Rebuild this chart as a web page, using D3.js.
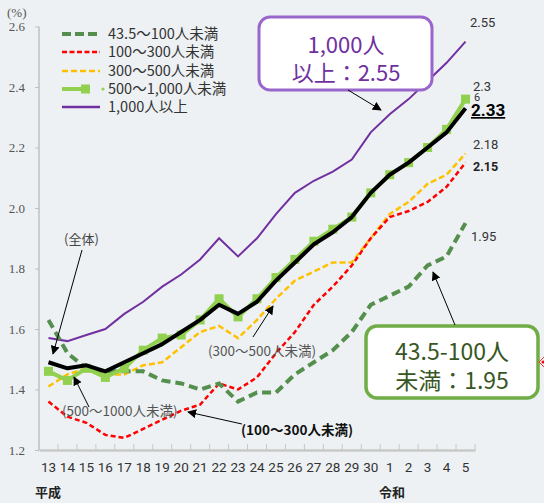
<!DOCTYPE html>
<html><head><meta charset="utf-8">
<script src="https://cdn.jsdelivr.net/npm/d3@7/dist/d3.min.js"></script>
<style>
html,body{margin:0;padding:0;background:#edf1f3;}
svg{display:block;}
</style></head><body>
<svg id="c" width="544" height="503"></svg>
<script>
const categories = ["13","14","15","16","17","18","19","20","21","22","23","24","25","26","27","28","29","30","1","2","3","4","5"];
const s43_100   = [1.63,1.52,1.47,1.46,1.46,1.46,1.43,1.42,1.40,1.42,1.36,1.39,1.39,1.45,1.49,1.53,1.59,1.68,1.71,1.74,1.81,1.84,1.95];
const s100_300  = [1.36,1.31,1.29,1.25,1.24,1.27,1.30,1.33,1.35,1.42,1.40,1.44,1.52,1.59,1.68,1.74,1.81,1.90,1.97,1.99,2.02,2.07,2.15];
const s300_500  = [1.41,1.45,1.47,1.45,1.45,1.48,1.49,1.54,1.59,1.61,1.57,1.63,1.70,1.76,1.79,1.82,1.82,1.90,1.98,2.02,2.08,2.11,2.18];
const s500_1000 = [1.46,1.43,1.47,1.44,1.47,1.53,1.57,1.58,1.63,1.70,1.64,1.70,1.77,1.83,1.89,1.93,1.97,2.05,2.11,2.15,2.20,2.26,2.36];
const s1000     = [1.57,1.56,1.58,1.60,1.65,1.69,1.74,1.78,1.83,1.90,1.84,1.90,1.98,2.05,2.09,2.12,2.16,2.25,2.31,2.36,2.42,2.48,2.55];
const sTotal    = [1.49,1.47,1.48,1.46,1.49,1.52,1.55,1.59,1.63,1.68,1.65,1.69,1.76,1.82,1.88,1.92,1.97,2.05,2.11,2.15,2.20,2.25,2.33];
const yTicks = [1.2,1.4,1.6,1.8,2.0,2.2,2.4,2.6];
const legendLabels = ["43.5〜100人未満","100〜300人未満","300〜500人未満","500〜1,000人未満","1,000人以上"];

const svg = d3.select("#c");
const x = d3.scaleBand().domain(categories).range([39,475]).padding(0);
const xc = d => x(d) + x.bandwidth()/2;
const y = d3.scaleLinear().domain([1.2,2.6]).range([450,26.5]);

const serif = "'Liberation Serif','DejaVu Serif',serif";
const sans = "'Noto Sans CJK JP','Noto Sans',sans-serif";

const defs = svg.append("defs");
defs.append("marker").attr("id","ah").attr("viewBox","0 0 10 10").attr("refX",9).attr("refY",5)
  .attr("markerWidth",9).attr("markerHeight",9).attr("markerUnits","userSpaceOnUse").attr("orient","auto")
  .append("path").attr("d","M0,0 L10,5 L0,10 Z").attr("fill","#000");

// Y axis
const yAxis = svg.append("g").attr("transform","translate(39,0)")
  .call(d3.axisLeft(y).tickValues(yTicks).tickFormat(d3.format(".1f")).tickSize(4).tickPadding(10));
yAxis.select(".domain").attr("stroke","#bfbfbf").attr("stroke-width",1.5).attr("d","M0,26.5V450");
yAxis.selectAll(".tick line").attr("stroke","#bfbfbf");
yAxis.selectAll("text").attr("font-family",serif).attr("font-size",13).attr("fill","#555");

svg.append("text").attr("x",7).attr("y",17).attr("font-family",serif).attr("font-size",13).attr("fill","#555").text("(%)");

// X axis
const xAxis = svg.append("g").attr("transform","translate(0,450)")
  .call(d3.axisBottom(x).tickSize(0).tickPadding(12));
xAxis.select(".domain").attr("stroke","#c8c8c8").attr("stroke-width",2.5);
xAxis.selectAll("text").attr("font-family","Roboto,'Noto Sans',sans-serif").attr("font-size",13.5).attr("fill","#333");
svg.append("g").selectAll("line").data(categories.concat(["end"])).join("line")
  .attr("x1",(d,i)=> i<categories.length ? x(d) : x(categories[categories.length-1])+x.bandwidth())
  .attr("x2",(d,i)=> i<categories.length ? x(d) : x(categories[categories.length-1])+x.bandwidth())
  .attr("y1",444).attr("y2",450).attr("stroke","#c8c8c8").attr("stroke-width",1);

svg.append("text").attr("x",35).attr("y",497).attr("font-family",sans).attr("font-weight","bold").attr("font-size",13).attr("fill","#222").text("平成");
svg.append("text").attr("x",379).attr("y",497).attr("font-family",sans).attr("font-weight","bold").attr("font-size",13).attr("fill","#222").text("令和");

const line = d3.line().x((d,i)=>xc(categories[i])).y(d=>y(d));

svg.append("path").datum(s1000).attr("d",line).attr("fill","none").attr("stroke","#7030a0").attr("stroke-width",2);
svg.append("path").datum(s300_500).attr("d",line).attr("fill","none").attr("stroke","#ffc000").attr("stroke-width",2.5).attr("stroke-dasharray","6,3");
svg.append("path").datum(s100_300).attr("d",line).attr("fill","none").attr("stroke","#ff0000").attr("stroke-width",2.5).attr("stroke-dasharray","5,3");
svg.append("path").datum(s43_100).attr("d",line).attr("fill","none").attr("stroke","#548f4e").attr("stroke-width",4).attr("stroke-dasharray","9,5");
svg.append("path").datum(s500_1000).attr("d",line).attr("fill","none").attr("stroke","#92d050").attr("stroke-width",4);
svg.append("g").selectAll("rect").data(s500_1000).join("rect")
  .attr("x",(d,i)=>xc(categories[i])-4.5).attr("y",d=>y(d)-4.5).attr("width",9).attr("height",9).attr("fill","#92d050");
svg.append("path").datum(sTotal).attr("d",line).attr("fill","none").attr("stroke","#000").attr("stroke-width",4).attr("stroke-linejoin","round");

// legend
const lg = svg.append("g");
const ly = [34,52,71,89,107];
lg.append("line").attr("x1",62).attr("x2",100).attr("y1",ly[0]).attr("y2",ly[0]).attr("stroke","#548f4e").attr("stroke-width",4).attr("stroke-dasharray","9,4");
lg.append("line").attr("x1",62).attr("x2",100).attr("y1",ly[1]).attr("y2",ly[1]).attr("stroke","#ff0000").attr("stroke-width",2.5).attr("stroke-dasharray","5,2.5");
lg.append("line").attr("x1",62).attr("x2",100).attr("y1",ly[2]).attr("y2",ly[2]).attr("stroke","#ffc000").attr("stroke-width",2.5).attr("stroke-dasharray","6,3");
lg.append("line").attr("x1",62).attr("x2",90).attr("y1",ly[3]).attr("y2",ly[3]).attr("stroke","#92d050").attr("stroke-width",4);
lg.append("rect").attr("x",81).attr("y",ly[3]-4.5).attr("width",9).attr("height",9).attr("fill","#92d050");
lg.append("circle").attr("cx",103).attr("cy",ly[3]).attr("r",1.6).attr("fill","#92d050");
lg.append("line").attr("x1",62).attr("x2",100).attr("y1",ly[4]).attr("y2",ly[4]).attr("stroke","#7030a0").attr("stroke-width",2.5);
lg.selectAll("text").data(legendLabels).join("text").attr("x",108).attr("y",(d,i)=>ly[i]+5)
  .attr("font-family",sans).attr("font-size",14.5).attr("fill","#333").text(d=>d);

// end labels
const endLbl = (t,xx,yy,opt={}) => svg.append("text").attr("x",xx).attr("y",yy).attr("font-family","Roboto,'Noto Sans',sans-serif")
  .attr("font-size",opt.size||13).attr("font-weight",opt.bold?"bold":"normal").attr("fill",opt.fill||"#333")
  .attr("text-decoration",opt.under?"underline":"none").text(t);
endLbl("2.55",470,27);
const t236 = svg.append("text").attr("font-family","Roboto,'Noto Sans',sans-serif").attr("font-size",13).attr("fill","#333");
t236.append("tspan").attr("x",473).attr("y",91).text("2.3");
t236.append("tspan").attr("x",474).attr("y",101).attr("font-size",11).text("6");
endLbl("2.33",471,116,{size:17,bold:true,fill:"#000",under:true});
endLbl("2.18",473,149);
endLbl("2.15",473,171,{bold:true,fill:"#222",size:12.5});
endLbl("1.95",471,241);

const ann = (t,xx,yy,opt={}) => svg.append("text").attr("x",xx).attr("y",yy).attr("font-family",sans)
  .attr("font-size",opt.size||13.5).attr("font-weight",opt.bold?"bold":"normal").attr("fill",opt.fill||"#555").text(t);
const arrow = (x1,y1,x2,y2) => svg.append("line").attr("x1",x1).attr("y1",y1).attr("x2",x2).attr("y2",y2)
  .attr("stroke","#000").attr("stroke-width",1).attr("marker-end","url(#ah)");

ann("(全体)",64,244,{fill:"#444",size:13});
arrow(82,250,53,354);
ann("(500〜1000人未満)",62,416);
arrow(89,407,74,377);
ann("(300〜500人未満)",208,356,{size:13.5});
arrow(253,337,273,306);
ann("(100〜300人未満)",241,435,{bold:true,fill:"#111",size:13.5});
arrow(242,424,188,412);

// callouts
svg.append("rect").attr("x",259).attr("y",17).attr("width",173).attr("height",73).attr("rx",11)
  .attr("fill","#fff").attr("stroke","#9966cc").attr("stroke-width",3);
const c1 = svg.append("text").attr("text-anchor","middle").attr("font-family",sans).attr("font-size",22).attr("fill","#7030a0");
c1.append("tspan").attr("x",346).attr("y",53).text("1,000人");
c1.append("tspan").attr("x",346).attr("y",81).text("以上：2.55");
arrow(348,90,381,110);

svg.append("rect").attr("x",366).attr("y",326).attr("width",172).attr("height",72).attr("rx",11)
  .attr("fill","#fff").attr("stroke","#70ad47").attr("stroke-width",3.5);
const c2 = svg.append("text").attr("text-anchor","middle").attr("font-family",sans).attr("font-size",23).attr("fill","#375623");
c2.append("tspan").attr("x",452).attr("y",360).text("43.5-100人");
c2.append("tspan").attr("x",452).attr("y",389).text("未満：1.95");
arrow(455,325,433,272);

svg.append("path").attr("d","M545,356 L539,362 L545,368").attr("fill","none").attr("stroke","#ff3333").attr("stroke-width",1);
svg.append("circle").attr("cx",543).attr("cy",362).attr("r",1.5).attr("fill","#ff0000");
</script>
</body></html>
